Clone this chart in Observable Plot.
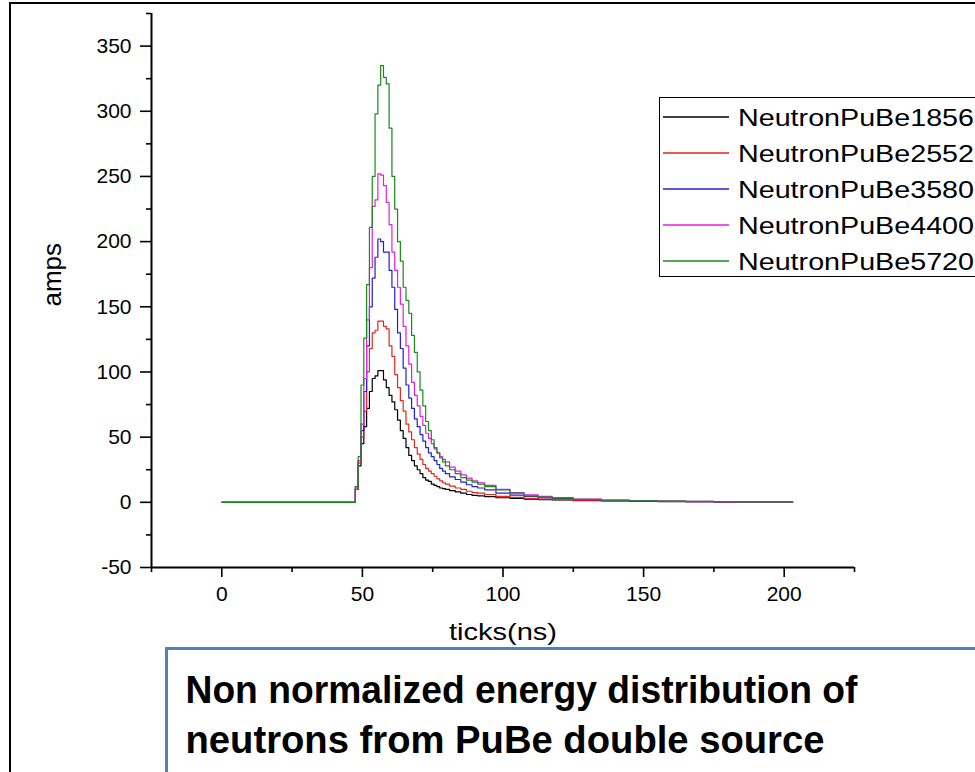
<!DOCTYPE html>
<html><head><meta charset="utf-8">
<script src="https://cdn.jsdelivr.net/npm/d3@7"></script>
<script src="https://cdn.jsdelivr.net/npm/@observablehq/plot@0.6"></script>
<style>
body{margin:0;background:#fff;}
#wrap{position:relative;width:975px;height:772px;overflow:hidden;background:#fff;font-family:"Liberation Sans",Arial,sans-serif;}
#frame{position:absolute;left:9px;top:2px;width:1100px;height:900px;border:2px solid #000;}
#chart{position:absolute;left:0;top:0;}
#legend{position:absolute;left:659px;top:97px;width:400px;height:178px;border:1.5px solid #000;background:#fff;}
#legend svg{position:absolute;left:0;top:0;}
#note{position:absolute;left:165px;top:647px;width:900px;height:200px;border:3.5px solid #4f81bd;background:#fff;}
</style>
</head><body>
<div id="wrap">
  <div id="frame"></div>
  <div id="chart"></div>
  <div id="legend"></div>
  <div id="note"></div>
</div>
<script>
// ---- data ----
const seriesNames = ["NeutronPuBe1856","NeutronPuBe2552","NeutronPuBe3580","NeutronPuBe4400","NeutronPuBe5720"];
const seriesColors = ["#000000","#e8251f","#1f1fd8","#e21ee2","#1a8a1a"];
const ticksNs = [0,
  46,47,48,49,50,51,52,53,54,55,56,57,58,59,60,61,62,63,64,65,66,67,68,69,70,71,72,73,74,75,76,77,78,79,80,
  82,84,86,88,90,92,95,100,105,110,115,120,130,140,150,160,170,180,190,203];
const amps1856 = [0,
  0,0,10,28,45,58,72,85,95,97,101,101,94,88,82,77,71,63,55,49,42,36,32,28,25,22,19,17,16,14,13,12,11,10.5,10,
  9,8,7,6,5.3,5,4.3,3.5,3,2.5,2,1.8,1.3,1,0.8,0.6,0.5,0.4,0.3,0.3];
const amps2552 = [0,
  0,0,10,30,50,70,100,118,130,132,139,139,135,133,120,112,98,88,78,70,60,54,48,42,37,33,29,26,24,22,20,18,16.5,15,14,
  12.5,11,10,8.5,7.5,7,6,4.5,3.8,3,2.5,2,1.5,1.1,0.9,0.7,0.5,0.4,0.3,0.3];
const amps3580 = [0,
  0,0,12,32,55,85,120,150,172,188,202,200,192,192,178,165,148,130,118,103,90,80,72,64,58,52,47,42,38,35,32,29,26,24,22,
  19.5,17.5,15.5,13.5,12,11,9.5,7,5.5,4.5,3.5,3,2,1.5,1.1,0.8,0.6,0.5,0.4,0.3];
const amps4400 = [0,
  0,0,12,32,60,95,140,180,227,232,252,251,243,230,213,192,178,165,152,135,120,106,92,82,74,66,59,53,49,45,41,38,35,33,31,
  27,24,21,18.5,16.5,15,13,10,7.5,5.8,4.5,3.6,2.4,1.7,1.2,0.9,0.7,0.5,0.4,0.3];
const amps5720 = [0,
  0,0,12,35,90,126,167,211,250,298,320,335,326,321,287,250,225,200,185,165,155,145,128,115,100,86,74,62,55,48,42,38,34,31,28,
  25,22,19,17,15.5,14,12,9.5,7,5,4,3.2,2.2,1.6,1.2,0.9,0.7,0.5,0.4,0.3];
const xMajor = [0,50,100,150,200];
const xMinor = [-25,25,75,125,175,225];
const yMajor = [-50,0,50,100,150,200,250,300,350];
const yMinor = [-25,25,75,125,175,225,275,325,375];
const xLabel = "ticks(ns)";
const yLabel = "amps";
const noteLines = ["Non normalized energy distribution of","neutrons from PuBe double source"];

// ---- build ----
const seriesValues = [amps1856, amps2552, amps3580, amps4400, amps5720];
const rows = seriesNames.flatMap((name, k) => ticksNs.map((t, i) => ({series: name, tick: t, amps: seriesValues[k][i]})));

const plot = Plot.plot({
  width: 975, height: 772,
  marginLeft: 151, marginRight: 121, marginTop: 13, marginBottom: 205,
  style: {background: "transparent", color: "#000", fontFamily: "'Liberation Sans', Arial, sans-serif", fontSize: "21px"},
  x: {domain: [-25, 225]},
  y: {domain: [-50, 375]},
  color: {domain: seriesNames, range: seriesColors},
  marks: [
    Plot.line(rows, {x: "tick", y: "amps", z: "series", stroke: "series", strokeWidth: 1.2, curve: "step"}),
    Plot.ruleY([-50], {stroke: "#000", strokeWidth: 2}),
    Plot.ruleX([-25], {stroke: "#000", strokeWidth: 2}),
    Plot.axisX({ticks: xMajor, tickSize: 10, tickPadding: 9, tickFormat: d => String(d), fontSize: 21, label: null, strokeWidth: 1.6}),
    Plot.axisX({ticks: xMinor, tickSize: 5, tickFormat: () => "", label: null, strokeWidth: 1.6}),
    Plot.axisY({ticks: yMajor, tickSize: 11, tickPadding: 9, tickFormat: d => String(d), fontSize: 21, label: null, strokeWidth: 1.6}),
    Plot.axisY({ticks: yMinor, tickSize: 5, tickFormat: () => "", label: null, strokeWidth: 1.6}),
    Plot.text([xLabel], {frameAnchor: "bottom", dy: 72, fontSize: 24}),
    Plot.text([yLabel], {frameAnchor: "left", dx: -99, dy: 16, rotate: -90, fontSize: 26})
  ]
});
// stretch x axis title horizontally like the reference
d3.select(plot).selectAll("text").each(function() {
  if (this.textContent === xLabel) d3.select(this).attr("textLength", 108).attr("lengthAdjust", "spacingAndGlyphs");
});
document.getElementById("chart").appendChild(plot);

// legend
const leg = d3.select("#legend").append("svg").attr("width", 400).attr("height", 178);
seriesNames.forEach((name, k) => {
  const cy = 19 + k * 36;
  leg.append("line").attr("x1", 3).attr("x2", 69).attr("y1", cy).attr("y2", cy)
    .attr("stroke", seriesColors[k]).attr("stroke-width", 1.3);
  leg.append("text").attr("x", 78).attr("y", cy + 8.5)
    .attr("textLength", 236).attr("lengthAdjust", "spacingAndGlyphs")
    .style("font-family", "'Liberation Sans', Arial, sans-serif").style("font-size", "23.5px").style("fill", "#000")
    .text(name);
});

// note box
const note = d3.select("#note").append("svg").attr("width", 900).attr("height", 200);
const widths = [672, 639];
noteLines.forEach((line, i) => {
  note.append("text")
    .attr("x", 17.5).attr("y", 52.5 + i * 50)
    .attr("textLength", widths[i]).attr("lengthAdjust", "spacingAndGlyphs")
    .style("font-family", "'Liberation Sans Narrow', 'Liberation Sans', Arial, sans-serif")
    .style("font-weight", "bold").style("font-size", "39px").style("fill", "#000")
    .text(line);
});
</script>
</body></html>
